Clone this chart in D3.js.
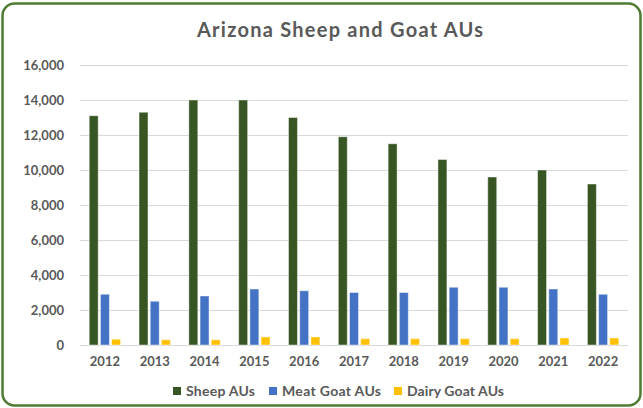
<!DOCTYPE html>
<html>
<head>
<meta charset="utf-8">
<script src="https://cdn.jsdelivr.net/npm/d3@7"></script>
<style>
  body { margin: 0; background: #fff; }
  svg text { font-family: Lato, "Open Sans", sans-serif; }
</style>
</head>
<body>
<svg id="chart" width="643" height="408"></svg>
<script>
const years = ['2012', '2013', '2014', '2015', '2016', '2017', '2018', '2019', '2020', '2021', '2022'];
const sheep = [13100, 13300, 14000, 14000, 13000, 11900, 11500, 10600, 9600, 10000, 9200];
const meatGoat = [2900, 2500, 2800, 3200, 3100, 3000, 3000, 3300, 3300, 3200, 2900];
const dairyGoat = [330, 300, 300, 460, 460, 360, 360, 360, 360, 400, 400];
const seriesNames = ['Sheep AUs', 'Meat Goat AUs', 'Dairy Goat AUs'];
const colors = ['#375623', '#4472C4', '#FFC000'];
const yTicks = [0, 2000, 4000, 6000, 8000, 10000, 12000, 14000, 16000];

const series = [sheep, meatGoat, dairyGoat];
const svg = d3.select('#chart');
const width = 643, height = 408;
const margin = { top: 65, right: 15, bottom: 63, left: 80 };

// frame
svg.append('rect')
  .attr('x', 2.5).attr('y', 3.5)
  .attr('width', width - 5).attr('height', height - 6)
  .attr('rx', 12).attr('ry', 12)
  .attr('fill', '#fff')
  .attr('stroke', '#4f7b32')
  .attr('stroke-width', 2.5);

svg.append('text')
  .attr('x', 340).attr('y', 37)
  .attr('text-anchor', 'middle')
  .attr('font-size', 20).attr('font-weight', 'bold')
  .attr('fill', '#595959')
  .attr('textLength', 286).attr('lengthAdjust', 'spacing')
  .text('Arizona Sheep and Goat AUs');

const x = d3.scaleBand()
  .domain(years)
  .range([margin.left, width - margin.right])
  .paddingInner(0.37).paddingOuter(0.185);

const xSub = d3.scaleBand()
  .domain(d3.range(series.length))
  .range([0, x.bandwidth()])
  .paddingInner(0.2);

const y = d3.scaleLinear()
  .domain([0, 16000])
  .range([height - margin.bottom, margin.top]);

// gridlines
svg.append('g')
  .selectAll('line')
  .data(yTicks)
  .join('line')
  .attr('x1', margin.left).attr('x2', width - margin.right)
  .attr('y1', d => y(d) + 0.5).attr('y2', d => y(d) + 0.5)
  .attr('stroke', '#d9d9d9').attr('stroke-width', 1);

const yAxis = svg.append('g')
  .attr('transform', `translate(${margin.left - 13},0)`)
  .call(d3.axisLeft(y).tickValues(yTicks).tickSize(0).tickFormat(d3.format(',')));
yAxis.select('.domain').remove();
yAxis.selectAll('text')
  .attr('font-size', 13).attr('font-weight', 'bold')
  .attr('fill', '#595959').attr('font-family', 'Lato, sans-serif');

const xAxis = svg.append('g')
  .attr('transform', `translate(0,${height - margin.bottom + 9})`)
  .call(d3.axisBottom(x).tickSize(0));
xAxis.select('.domain').remove();
xAxis.selectAll('text')
  .attr('font-size', 13).attr('font-weight', 'bold')
  .attr('fill', '#595959').attr('font-family', 'Lato, sans-serif');

// bars
series.forEach((vals, si) => {
  svg.append('g')
    .selectAll('rect')
    .data(vals)
    .join('rect')
    .attr('x', (d, i) => x(years[i]) + xSub(si))
    .attr('y', d => y(d))
    .attr('width', xSub.bandwidth())
    .attr('height', d => y(0) - y(d))
    .attr('fill', colors[si])
    .attr('stroke', 'rgba(255,255,255,0.45)')
    .attr('stroke-width', 1);
});

// legend
const legendX = [173, 269, 394];
const legendW = [69, 99, 97];
const legend = svg.append('g')
  .selectAll('g')
  .data(seriesNames)
  .join('g')
  .attr('transform', (d, i) => `translate(${legendX[i]},391)`);
legend.append('rect')
  .attr('x', 0).attr('y', -4)
  .attr('width', 8).attr('height', 8)
  .attr('fill', (d, i) => colors[i]);
legend.append('text')
  .attr('x', 13).attr('y', 0)
  .attr('dy', '0.35em')
  .attr('font-size', 14).attr('font-weight', 'bold')
  .attr('fill', '#595959')
  .attr('textLength', (d, i) => legendW[i]).attr('lengthAdjust', 'spacing')
  .text(d => d);
</script>
</body>
</html>
